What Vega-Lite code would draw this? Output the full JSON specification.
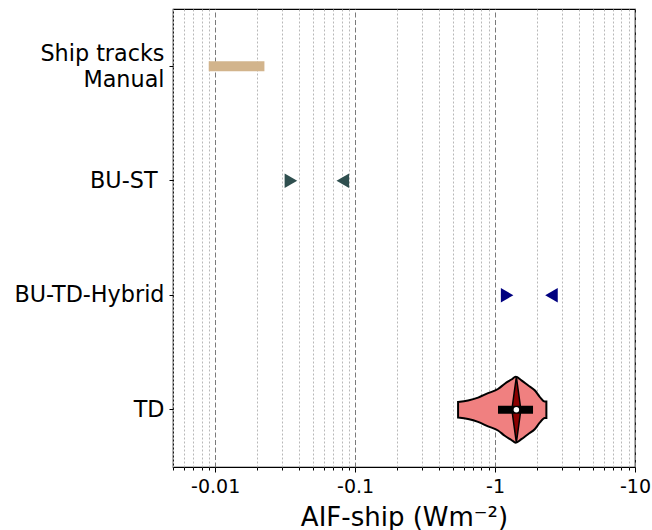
{
  "$schema": "https://vega.github.io/schema/vega-lite/v6.json",
  "width": 462,
  "height": 458,
  "autosize": "none",
  "padding": {"left": 173, "top": 9, "right": 17, "bottom": 63},
  "background": "white",
  "config": {
    "font": "DejaVu Sans",
    "view": {"stroke": "#000", "strokeWidth": 1.2}
  },
  "datasets": {
    "bars": [
      {"method": "Ship tracks\nManual", "aif": -0.009, "aif_end": -0.0225}
    ],
    "tri": [
      {"method": "BU-ST", "aif": -0.0348, "end": "lower"},
      {"method": "BU-ST", "aif": -0.0817, "end": "upper"},
      {"method": "BU-TD-Hybrid", "aif": -1.22, "end": "lower"},
      {"method": "BU-TD-Hybrid", "aif": -2.53, "end": "upper"}
    ],
    "violin": [
      {"aif": -0.5444, "top": 0.068, "bottom": -0.068},
      {"aif": -0.6417, "top": 0.081, "bottom": -0.081},
      {"aif": -0.7563, "top": 0.106, "bottom": -0.106},
      {"aif": -0.891, "top": 0.145, "bottom": -0.145},
      {"aif": -1.05, "top": 0.181, "bottom": -0.181},
      {"aif": -1.173, "top": 0.227, "bottom": -0.227},
      {"aif": -1.309, "top": 0.264, "bottom": -0.264},
      {"aif": -1.405, "top": 0.288, "bottom": -0.288},
      {"aif": -1.543, "top": 0.257, "bottom": -0.257},
      {"aif": -1.72, "top": 0.2135, "bottom": -0.2135},
      {"aif": -1.92, "top": 0.17, "bottom": -0.17},
      {"aif": -2.085, "top": 0.113, "bottom": -0.113},
      {"aif": -2.263, "top": 0.0715, "bottom": -0.0715},
      {"aif": -2.327, "top": 0.0715, "bottom": -0.0715}
    ],
    "lens": [
      {"offset": -0.288, "aif": -1.42, "aif_right": -1.42},
      {"offset": -0.144, "aif": -1.368, "aif_right": -1.474},
      {"offset": 0, "aif": -1.319, "aif_right": -1.529},
      {"offset": 0.144, "aif": -1.368, "aif_right": -1.474},
      {"offset": 0.288, "aif": -1.42, "aif_right": -1.42}
    ],
    "box": [
      {"offset": 0, "aif": -1.05, "aif_end": -1.868}
    ],
    "median": [
      {"offset": 0, "aif": -1.42}
    ]
  },
  "encoding": {
    "x": {
      "field": "aif",
      "type": "quantitative",
      "scale": {"type": "log", "domain": [-0.005, -10], "nice": false, "zero": false},
      "axis": {
        "title": "AIF-ship (Wm⁻²)",
        "titleFont": "DejaVu Sans",
        "titleFontSize": 26,
        "titleFontWeight": "normal",
        "titleColor": "#000",
        "titleBaseline": "alphabetic",
        "titleY": 58,
        "tickCount": 40,
        "labelExpr": "abs(log(-datum.value)/LN10 - round(log(-datum.value)/LN10)) < 0.001 ? '-' + format(-datum.value, '~g') : ''",
        "labelFont": "DejaVu Sans",
        "labelFontSize": 19,
        "labelColor": "#000",
        "labelOverlap": false,
        "labelFlush": false,
        "labelBound": false,
        "labelPadding": 5,
        "domain": false,
        "ticks": true,
        "tickColor": "#000",
        "tickWidth": 1,
        "tickSize": {"condition": {"test": "abs(log(-datum.value)/LN10 - round(log(-datum.value)/LN10)) < 0.001", "value": 5}, "value": 3},
        "grid": true,
        "gridWidth": 1,
        "gridColor": {"condition": {"test": "abs(log(-datum.value)/LN10 - round(log(-datum.value)/LN10)) < 0.001", "value": "#7a7a7a"}, "value": "#b8b8b8"},
        "gridDash": {"condition": {"test": "abs(log(-datum.value)/LN10 - round(log(-datum.value)/LN10)) < 0.001", "value": [5, 2.5]}, "value": [2, 2]}
      }
    }
  },
  "resolve": {"scale": {"y": "independent"}},
  "layer": [
    {
      "encoding": {
        "y": {
          "field": "method",
          "type": "nominal",
          "scale": {"domain": ["Ship tracks\nManual", "BU-ST", "BU-TD-Hybrid", "TD"]},
          "axis": {
            "title": null,
            "labelFont": "DejaVu Sans",
            "labelFontSize": 22.3,
            "labelColor": "#000",
            "labelExpr": "split(datum.label, '\\n')",
            "labelLineHeight": 26,
            "labelOffset": {"condition": {"test": "indexof(datum.value, 'Manual') >= 0", "value": -12}, "value": 0},
            "labelPadding": {"condition": {"test": "datum.value == 'BU-ST'", "value": 12}, "value": 5},
            "domain": false,
            "ticks": true,
            "tickColor": "#000",
            "tickSize": 4,
            "grid": false
          }
        }
      },
      "layer": [
        {
          "data": {"name": "bars"},
          "mark": {"type": "rule", "color": "#D2B48C", "strokeWidth": 10, "strokeCap": "butt"},
          "encoding": {"x2": {"field": "aif_end"}}
        },
        {
          "data": {"name": "tri"},
          "mark": {"type": "point", "filled": true, "size": 210, "opacity": 1},
          "encoding": {
            "shape": {"field": "end", "type": "nominal", "scale": {"domain": ["lower", "upper"], "range": ["triangle-right", "triangle-left"]}, "legend": null},
            "color": {"field": "method", "type": "nominal", "scale": {"domain": ["BU-ST", "BU-TD-Hybrid"], "range": ["#2F4F4F", "#000080"]}, "legend": null}
          }
        }
      ]
    },
    {
      "layer": [
        {
          "data": {"name": "violin"},
          "mark": {"type": "area", "orient": "vertical", "fill": "#F08080", "stroke": "#000", "strokeWidth": 2, "opacity": 1, "interpolate": "monotone"},
          "encoding": {
            "y": {"field": "top", "type": "quantitative", "scale": {"domain": [-0.5, 3.5], "nice": false, "zero": false}, "axis": null},
            "y2": {"field": "bottom"}
          }
        },
        {
          "data": {"name": "lens"},
          "mark": {"type": "area", "orient": "horizontal", "fill": "#8B0000", "stroke": "#000", "strokeWidth": 1.5, "opacity": 1},
          "encoding": {
            "y": {"field": "offset", "type": "quantitative", "scale": {"domain": [-0.5, 3.5], "nice": false, "zero": false}, "axis": null},
            "x2": {"field": "aif_right"}
          }
        },
        {
          "data": {"name": "box"},
          "mark": {"type": "rule", "color": "#000", "strokeWidth": 8, "strokeCap": "butt"},
          "encoding": {
            "y": {"field": "offset", "type": "quantitative", "scale": {"domain": [-0.5, 3.5], "nice": false, "zero": false}, "axis": null},
            "x2": {"field": "aif_end"}
          }
        },
        {
          "data": {"name": "median"},
          "mark": {"type": "point", "filled": true, "shape": "circle", "size": 30, "color": "#fff", "opacity": 1},
          "encoding": {
            "y": {"field": "offset", "type": "quantitative", "scale": {"domain": [-0.5, 3.5], "nice": false, "zero": false}, "axis": null}
          }
        }
      ]
    }
  ]
}
